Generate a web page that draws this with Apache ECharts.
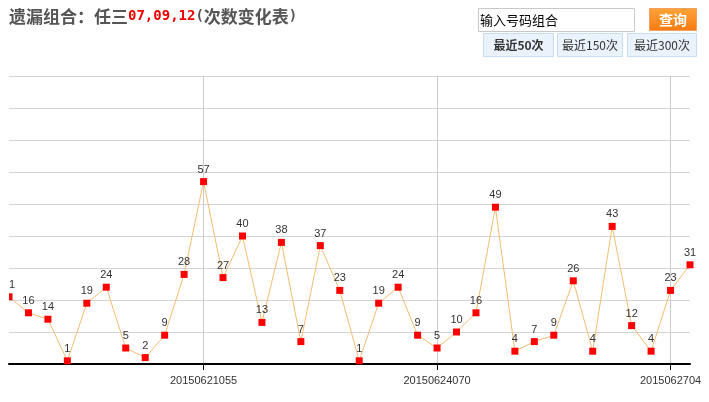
<!DOCTYPE html>
<html><head><meta charset="utf-8">
<script src="https://cdn.jsdelivr.net/npm/echarts@6/dist/echarts.min.js"></script>
<style>html,body{margin:0;padding:0;background:#fff}#c{width:709px;height:402px}</style>
</head><body><div id="c"></div>
<script>
const categories = ["20150619080","20150619081","20150619082","20150619083","20150619084","20150620011","20150620012","20150620013","20150620014","20150620015","20150621055","20150621056","20150621057","20150621058","20150622001","20150622002","20150622003","20150622004","20150622005","20150623001","20150623002","20150623003","20150624070","20150624071","20150624072","20150625001","20150625002","20150625003","20150626001","20150626002","20150626003","20150626004","20150627001","20150627002","2015062704","20150627050"];
const values = [21,16,14,1,19,24,5,2,9,28,57,27,40,13,38,7,37,23,1,19,24,9,5,10,16,49,4,7,9,26,4,43,12,4,23,31];
const labelIdx = [10,22,34];
const titlePre = "遗漏组合：任三";
const titleNums = "07,09,12";
const titlePost = "次数变化表";
const inputPlaceholder = "输入号码组合";
const queryBtn = "查询";
const rangeBtns = ["最近50次","最近150次","最近300次"];

const chart = echarts.init(document.getElementById('c'), null, {renderer:'canvas'});
const cjk = '"Noto Sans CJK SC", sans-serif';
const btnX = [483, 557, 627], btnW = [70, 65, 69];
const graphics = [
  {type:'rect', left:0, top:250, shape:{width:9, height:60}, style:{fill:'#fff'}, z:100},
  {type:'text', left:9, top:8, style:{
    rich:{a:{fill:'#555', font:'bold 17px '+cjk}, b:{fill:'#e00', font:'bold 14px "DejaVu Sans Mono", monospace'}, p:{fill:'#555', font:'bold 14px "DejaVu Sans Mono", monospace'}},
    text:'{a|'+titlePre+'}{b|'+titleNums+'}{p|(}{a|'+titlePost+'}{p|)}'}},
  {type:'rect', shape:{x:478.5, y:8.5, width:156, height:23}, style:{fill:'#fff', stroke:'#c8c8c8', lineWidth:1}},
  {type:'text', x:480, y:20, style:{text:inputPlaceholder, fill:'#000', font:'13px '+cjk, verticalAlign:'middle'}},
  {type:'rect', shape:{x:649.5, y:8.5, width:47, height:22}, style:{fill:new echarts.graphic.LinearGradient(0,0,0,1,[{offset:0,color:'#ffa43a'},{offset:1,color:'#f57a10'}]), stroke:'#f0a060', lineWidth:1}},
  {type:'text', x:673, y:19.5, style:{text:queryBtn, fill:'#fff', font:'bold 14px '+cjk, align:'center', verticalAlign:'middle'}}
];
rangeBtns.forEach((t,i)=>{
  graphics.push({type:'rect', shape:{x:btnX[i]+0.5, y:33.5, width:btnW[i], height:23}, style:{fill:'#eaf2fc', stroke:'#c9dcf5', lineWidth:1}});
  graphics.push({type:'text', x:btnX[i]+btnW[i]/2+0.5, y:45, style:{text:t, fill:'#333', font:(i===0?'bold ':'')+'12px '+cjk, align:'center', verticalAlign:'middle'}});
});

chart.setOption({
  animation:false,
  graphic: graphics,
  grid:{left:9, right:19, top:76, bottom:38, containLabel:false},
  xAxis:{type:'category', data:categories, boundaryGap:false,
    axisLine:{lineStyle:{color:'#000', width:2}},
    axisTick:{show:true, length:6, lineStyle:{color:'#000'}, interval:(i)=>labelIdx.includes(i)},
    axisLabel:{interval:(i)=>labelIdx.includes(i), color:'#333', fontSize:11, fontFamily:'Arial, "Liberation Sans"', margin:11},
    splitLine:{show:true, interval:(i)=>labelIdx.includes(i), lineStyle:{color:'#ccc', width:1}}
  },
  yAxis:{type:'value', min:0, max:90, interval:10,
    axisLine:{show:false}, axisTick:{show:false}, axisLabel:{show:false},
    splitLine:{lineStyle:{color:'#d4d4d4', width:1}}
  },
  series:[{type:'line', data:values, symbol:'rect', symbolSize:7, clip:false,
    lineStyle:{color:'#f3bd72', width:1},
    itemStyle:{color:'#f00'},
    label:{show:true, position:'top', distance:3, color:'#333', fontSize:11, fontFamily:'Arial, "Liberation Sans"'}
  }]
});
</script></body></html>
